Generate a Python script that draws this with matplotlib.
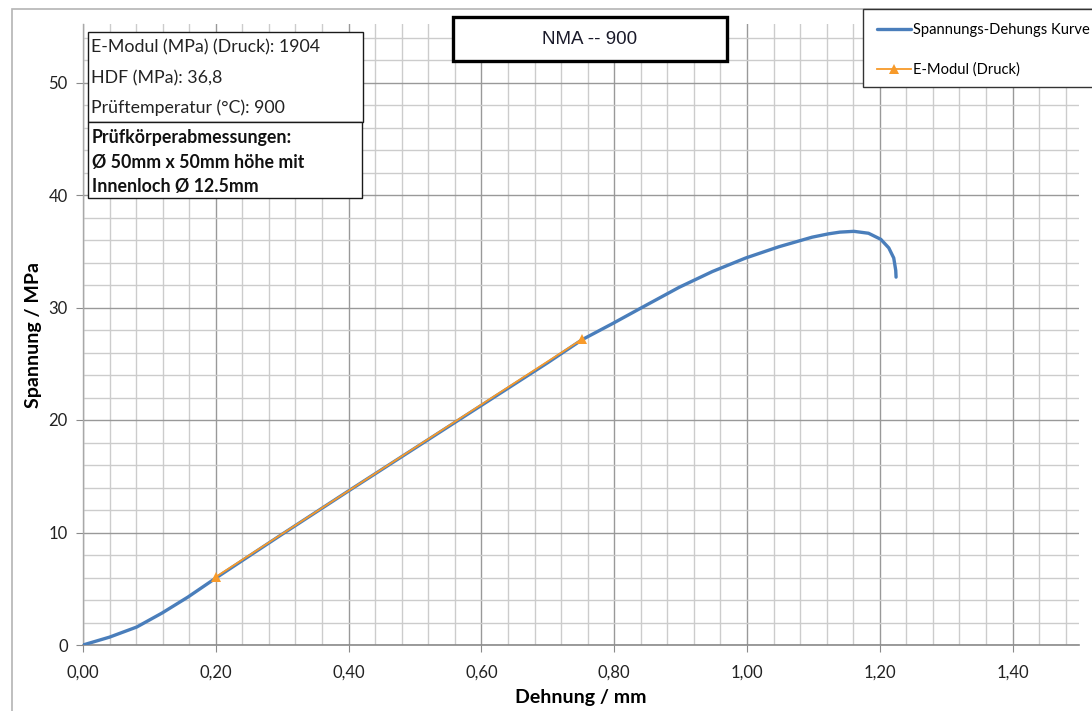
import matplotlib
matplotlib.use("Agg")
import matplotlib.pyplot as plt
from matplotlib.ticker import MultipleLocator, FuncFormatter
from matplotlib.patches import Rectangle

# ---- data ----
strain = [0, 0.04, 0.081, 0.119, 0.158, 0.2, 0.3, 0.4, 0.5, 0.6, 0.7, 0.752,
          0.7975, 0.848, 0.898, 0.948, 0.998, 1.048, 1.098, 1.123, 1.140,
          1.161, 1.183, 1.2015, 1.2135, 1.221, 1.224, 1.2245]
stress = [0, 0.7, 1.6, 2.84, 4.26, 5.95, 9.85, 13.7, 17.5, 21.3, 25.1, 27.15,
          28.57, 30.2, 31.8, 33.2, 34.4, 35.4, 36.25, 36.55, 36.7,
          36.77, 36.6, 36.06, 35.3, 34.4, 33.3, 32.7]
emod_x = [0.2, 0.752]
emod_y = [6.05, 27.2]

title = "NMA -- 900"
info_lines = ["E-Modul (MPa) (Druck): 1904", "HDF (MPa): 36,8", "Prüftemperatur (°C): 900"]
dim_lines = ["Prüfkörperabmessungen:", "Ø 50mm x 50mm höhe mit", "Innenloch Ø 12.5mm"]
series_labels = ["Spannungs-Dehungs Kurve", "E-Modul (Druck)"]
xlabel = "Dehnung / mm"
ylabel = "Spannung / MPa"

BLUE = "#4a7ebb"
ORANGE = "#f79a2a"
FONT = "Lato"

W, H = 1092, 711
fig = plt.figure(figsize=(W / 100, H / 100), dpi=100)

def fx(px):
    return px / W

def fy(py):
    return 1 - py / H

ax = fig.add_axes([fx(83), fy(645), fx(1079) - fx(83), fy(24) - fy(645)])
ax.set_xlim(0, 1.5)
ax.set_ylim(0, 55.2)

ax.xaxis.set_major_locator(MultipleLocator(0.2))
ax.xaxis.set_minor_locator(MultipleLocator(0.04))
ax.yaxis.set_major_locator(MultipleLocator(10))
ax.yaxis.set_minor_locator(MultipleLocator(2))
ax.xaxis.set_major_formatter(FuncFormatter(lambda v, p: f"{v:.2f}".replace(".", ",")))
ax.yaxis.set_major_formatter(FuncFormatter(lambda v, p: f"{v:.0f}"))

ax.grid(which="minor", color="#cccccc", lw=1.0)
ax.grid(which="major", color="#999999", lw=1.0)
ax.set_axisbelow(True)

for s in ["top", "right"]:
    ax.spines[s].set_visible(False)
ax.spines["left"].set_color("#a8a8a8")
ax.spines["bottom"].set_color("#8a8a8a")
ax.spines["left"].set_linewidth(1.0)
ax.spines["bottom"].set_linewidth(1.2)
ax.tick_params(which="major", length=5, color="#8a8a8a", labelsize=12,
               labelcolor="#222222")
ax.tick_params(which="minor", length=0)
ax.tick_params(axis="y", pad=6)
ax.tick_params(axis="x", pad=9)
for lab in ax.get_xticklabels() + ax.get_yticklabels():
    lab.set_fontfamily(FONT)

ax.set_xlabel(xlabel, fontsize=14, fontweight="bold", fontfamily=FONT, labelpad=6)
ax.set_ylabel(ylabel, fontsize=14, fontweight="bold", fontfamily=FONT, labelpad=5)

l1, = ax.plot(strain, stress, color=BLUE, lw=2.4, solid_capstyle="round", zorder=3)
l2, = ax.plot(emod_x, emod_y, color=ORANGE, lw=1.3, marker="^", ms=7,
              markeredgewidth=0, zorder=4)

# outer chart border
fig.add_artist(Rectangle((fx(12), -0.2), 1.3, fy(9) + 0.2, transform=fig.transFigure,
                         fill=False, edgecolor="#b4b4b4", lw=1.2, clip_on=False))

# info boxes
fig.add_artist(Rectangle((fx(88), fy(122)), fx(363) - fx(88), fy(32) - fy(122),
                         transform=fig.transFigure, facecolor="white",
                         edgecolor="#1a1a1a", lw=1.0, zorder=5))
fig.add_artist(Rectangle((fx(88), fy(198)), fx(362) - fx(88), fy(122) - fy(198),
                         transform=fig.transFigure, facecolor="white",
                         edgecolor="#1a1a1a", lw=1.0, zorder=5))
for t, yy in zip(info_lines, [47, 78, 108]):
    fig.text(fx(91), fy(yy), t, fontsize=12.8, fontfamily=FONT, va="center",
             ha="left", color="#222222", zorder=6)
for t, yy in zip(dim_lines, [138, 162.5, 186.5]):
    fig.text(fx(92), fy(yy), t, fontsize=12.8, fontfamily=FONT, fontweight="bold",
             va="center", ha="left", color="#111111", zorder=6)

# title box
fig.add_artist(Rectangle((fx(453), fy(61)), fx(727) - fx(453), fy(17) - fy(61),
                         transform=fig.transFigure, facecolor="white",
                         edgecolor="black", lw=2.4, zorder=5))
fig.text(fx(590), fy(39), title, fontsize=13.5, fontfamily="Liberation Sans",
         ha="center", va="center", color="#1a1a2a", zorder=6)

# legend box (extends beyond right edge of picture)
fig.add_artist(Rectangle((fx(863), fy(87)), 0.3, fy(9) - fy(87),
                         transform=fig.transFigure, facecolor="white",
                         edgecolor="#333333", lw=1.0, zorder=6, clip_on=False))
leg = fig.legend([l1, l2], series_labels, loc="upper left",
                 bbox_to_anchor=(fx(877), fy(23)), frameon=False,
                 borderpad=0, handlelength=2.3, handletextpad=0.12,
                 labelspacing=1.75, prop={"family": FONT, "size": 10.6},
                 borderaxespad=0)
leg.set_zorder(7)

fig.savefig("out.png", dpi=100)
